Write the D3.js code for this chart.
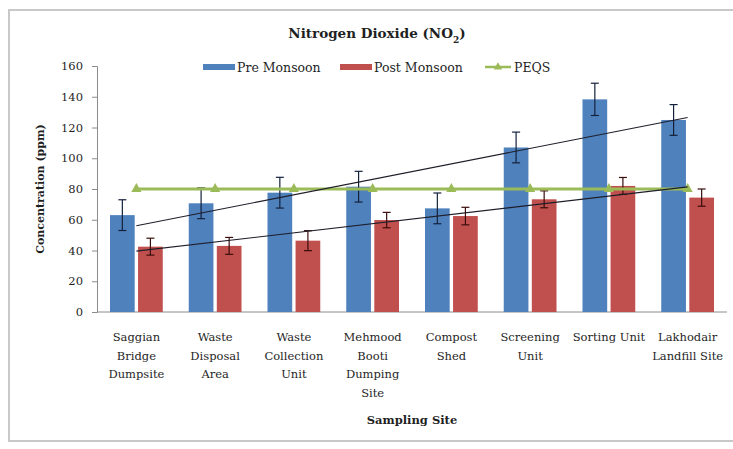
<!DOCTYPE html>
<html>
<head>
<meta charset="utf-8">
<script src="https://cdn.jsdelivr.net/npm/d3@7"></script>
<style>
  html, body { margin: 0; padding: 0; background: #fff; }
  svg { display: block; }
  svg text { font-family: "DejaVu Serif", serif; fill: #1f1f1f; }
</style>
</head>
<body>
<svg id="chart" width="733" height="449"></svg>
<script>
// NO2 concentration by sampling site
const sites = [
  ["Saggian", "Bridge", "Dumpsite"],
  ["Waste", "Disposal", "Area"],
  ["Waste", "Collection", "Unit"],
  ["Mehmood", "Booti", "Dumping", "Site"],
  ["Compost", "Shed"],
  ["Screening", "Unit"],
  ["Sorting Unit"],
  ["Lakhodair", "Landfill Site"]
];
const preMonsoon  = [63, 70.7, 77.6, 81.5, 67.4, 107, 138.3, 124.9];
const preError    = [10, 10, 10, 10, 10, 10, 10.5, 10];
const postMonsoon = [42.5, 43, 46.4, 59.8, 62.4, 73.3, 82, 74.4];
const postError   = [5.5, 5.5, 6.5, 5, 5.7, 5.5, 5.5, 5.6];
const peqs        = [80, 80, 80, 80, 80, 80, 80, 80];
const yTicks      = [0, 20, 40, 60, 80, 100, 120, 140, 160];
const legendItems = ["Pre Monsoon", "Post Monsoon", "PEQS"];

const colors = { pre: "#4F81BD", post: "#C0504D", peqs: "#9BBB59" };
const FONT = "DejaVu Serif";

const svg = d3.select("#chart");

// outer chart frame
svg.append("rect")
  .attr("x", 9).attr("y", 10).attr("width", 740).attr("height", 431)
  .attr("fill", "#fff").attr("stroke", "#c8c8c8").attr("stroke-width", 2);

const plot = { left: 97, right: 727, top: 66, bottom: 312 };

const x = d3.scaleBand()
  .domain(d3.range(sites.length))
  .range([plot.left, plot.right])
  .paddingInner(0.33).paddingOuter(0.165);

const sub = d3.scaleBand()
  .domain(["pre", "post"])
  .range([0, x.bandwidth()])
  .paddingInner(0.12);

const y = d3.scaleLinear().domain([0, 160]).range([plot.bottom, plot.top]);

// y axis
const yAxis = svg.append("g")
  .attr("transform", `translate(${plot.left},0)`)
  .call(d3.axisLeft(y).tickValues(yTicks).tickSize(5).tickPadding(9));
yAxis.attr("font-family", FONT);
yAxis.select(".domain").attr("stroke", "#8c8c8c");
yAxis.selectAll(".tick line").attr("stroke", "#8c8c8c");
yAxis.selectAll(".tick text")
  .attr("font-family", FONT).attr("font-size", 11.5).attr("fill", "#222");

// x axis line
svg.append("line")
  .attr("x1", plot.left).attr("x2", plot.right)
  .attr("y1", plot.bottom).attr("y2", plot.bottom)
  .attr("stroke", "#8c8c8c");

// bars
const groups = svg.append("g").selectAll("g")
  .data(sites.map((s, i) => i))
  .join("g")
  .attr("transform", i => `translate(${x(i)},0)`);

groups.append("rect")
  .attr("x", sub("pre")).attr("width", sub.bandwidth())
  .attr("y", i => y(preMonsoon[i]))
  .attr("height", i => y(0) - y(preMonsoon[i]))
  .attr("fill", colors.pre);

groups.append("rect")
  .attr("x", sub("post")).attr("width", sub.bandwidth())
  .attr("y", i => y(postMonsoon[i]))
  .attr("height", i => y(0) - y(postMonsoon[i]))
  .attr("fill", colors.post);

// error bars
function errorBar(sel, key, vals, errs, stroke) {
  const cx = sub(key) + sub.bandwidth() / 2;
  const g = sel.append("g").attr("stroke", stroke).attr("stroke-width", 1.2);
  g.append("line").attr("x1", cx).attr("x2", cx)
    .attr("y1", i => y(vals[i] + errs[i])).attr("y2", i => y(vals[i] - errs[i]));
  g.append("line").attr("x1", cx - 4).attr("x2", cx + 4)
    .attr("y1", i => y(vals[i] + errs[i])).attr("y2", i => y(vals[i] + errs[i]));
  g.append("line").attr("x1", cx - 4).attr("x2", cx + 4)
    .attr("y1", i => y(vals[i] - errs[i])).attr("y2", i => y(vals[i] - errs[i]));
}
errorBar(groups, "pre", preMonsoon, preError, "#14213d");
errorBar(groups, "post", postMonsoon, postError, "#3a0d0c");

const cxOf = i => x(i) + x.bandwidth() / 2;

// PEQS limit line with triangle markers
svg.append("path")
  .datum(peqs)
  .attr("fill", "none").attr("stroke", colors.peqs).attr("stroke-width", 3)
  .attr("d", d3.line().x((d, i) => cxOf(i)).y(d => y(d)));
svg.append("g").selectAll("path")
  .data(peqs)
  .join("path")
  .attr("transform", (d, i) => `translate(${cxOf(i)},${y(d)})`)
  .attr("d", d3.symbol(d3.symbolTriangle, 45))
  .attr("fill", colors.peqs);

// linear trend lines (least squares over site index)
function trend(vals) {
  const xs = vals.map((v, i) => i + 1);
  const mx = d3.mean(xs), my = d3.mean(vals);
  const sxy = d3.sum(xs, (xv, i) => (xv - mx) * (vals[i] - my));
  const sxx = d3.sum(xs, xv => (xv - mx) ** 2);
  const b = sxy / sxx, a = my - b * mx;
  return vals.map((v, i) => a + b * (i + 1));
}
[preMonsoon, postMonsoon].forEach(vals => {
  const t = trend(vals);
  svg.append("line")
    .attr("x1", cxOf(0)).attr("y1", y(t[0]))
    .attr("x2", cxOf(t.length - 1)).attr("y2", y(t[t.length - 1]))
    .attr("stroke", "#1e1e2a").attr("stroke-width", 1.1);
});

// category labels
const lab = svg.append("g").selectAll("text")
  .data(sites)
  .join("text")
  .attr("text-anchor", "middle")
  .attr("font-family", FONT)
  .attr("font-size", 11.5)
  .attr("fill", "#222")
  .attr("transform", (d, i) => `translate(${cxOf(i)},341)`);
lab.selectAll("tspan")
  .data(d => d)
  .join("tspan")
  .attr("x", 0)
  .attr("dy", (d, j) => j === 0 ? 0 : 18.5)
  .text(d => d);

// titles
svg.append("text")
  .attr("x", 377).attr("y", 38)
  .attr("text-anchor", "middle")
  .attr("font-family", FONT)
  .attr("font-size", 13.5).attr("font-weight", "bold")
  .html('Nitrogen Dioxide (NO<tspan baseline-shift="sub" font-size="9">2</tspan>)');

svg.append("text")
  .attr("x", 412).attr("y", 424)
  .attr("text-anchor", "middle")
  .attr("font-family", FONT)
  .attr("font-size", 11.5).attr("font-weight", "bold")
  .text("Sampling Site");

svg.append("text")
  .attr("transform", "translate(44,189) rotate(-90)")
  .attr("text-anchor", "middle")
  .attr("font-family", FONT)
  .attr("font-size", 11).attr("font-weight", "bold")
  .text("Concentration (ppm)");

// legend
const legend = svg.append("g").attr("transform", "translate(0,67)");
const legX = [203, 340, 485];
legend.append("rect").attr("x", legX[0]).attr("y", -3).attr("width", 32).attr("height", 6).attr("fill", colors.pre);
legend.append("rect").attr("x", legX[1]).attr("y", -3).attr("width", 32).attr("height", 6).attr("fill", colors.post);
legend.append("line").attr("x1", legX[2]).attr("x2", legX[2] + 26).attr("y1", 0).attr("y2", 0)
  .attr("stroke", colors.peqs).attr("stroke-width", 2.5);
legend.append("path").attr("transform", `translate(${legX[2] + 13},0)`)
  .attr("d", d3.symbol(d3.symbolTriangle, 30)).attr("fill", colors.peqs);
legend.selectAll("text.leg")
  .data(legendItems)
  .join("text")
  .attr("class", "leg")
  .attr("x", (d, i) => legX[i] + (i === 2 ? 29 : 34))
  .attr("y", 5)
  .attr("font-family", FONT)
  .attr("font-size", 12.5)
  .attr("fill", "#222")
  .text(d => d);
</script>
</body>
</html>
